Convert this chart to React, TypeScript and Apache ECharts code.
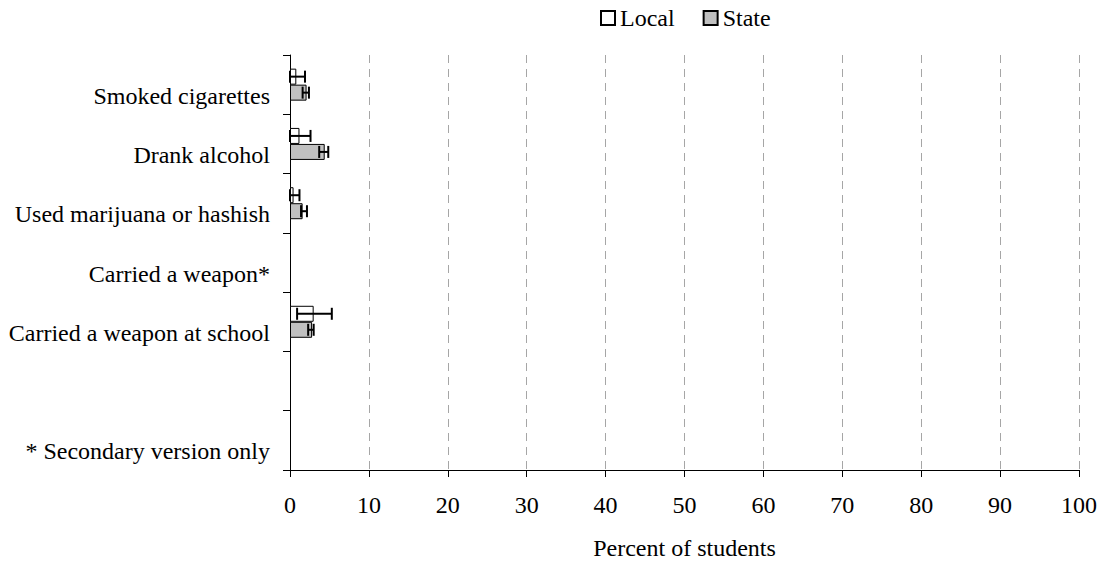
import React, { useEffect, useRef } from "react";
import * as echarts from "echarts";

const categories = [
  "Smoked cigarettes",
  "Drank alcohol",
  "Used marijuana or hashish",
  "Carried a weapon*",
  "Carried a weapon at school",
  "",
  "* Secondary version only",
];
const localValues: (number | null)[] = [0.8, 1.2, 0.45, null, 3.0, null, null];
const stateValues: (number | null)[] = [2.1, 4.4, 1.6, null, 2.8, null, null];
const localErrors: ([number, number] | null)[] = [[0, 1.9], [0, 2.6], [0, 1.2], null, [0.9, 5.3], null, null];
const stateErrors: ([number, number] | null)[] = [[1.6, 2.4], [3.7, 4.85], [1.4, 2.15], null, [2.3, 3.0], null, null];
const xTicks = [0, 10, 20, 30, 40, 50, 60, 70, 80, 90, 100];

const FONT = "'Liberation Serif', 'Times New Roman', Times, serif";
const FS = 24;
const BAR_W = 16;

function errData(errs: ([number, number] | null)[]) {
  const out: number[][] = [];
  errs.forEach((e, i) => {
    if (e) out.push([i, e[0], e[1]]);
  });
  return out;
}

function makeRenderItem(offset: number) {
  return (params: any, api: any) => {
    const ci = api.value(0);
    const a = api.coord([api.value(1), ci]);
    const b = api.coord([api.value(2), ci]);
    const y = a[1] + offset;
    const cap = 6;
    const style = { stroke: "#000", lineWidth: 2 };
    return {
      type: "group",
      children: [
        { type: "line", shape: { x1: a[0], y1: y, x2: b[0], y2: y }, style },
        { type: "line", shape: { x1: a[0], y1: y - cap, x2: a[0], y2: y + cap }, style },
        { type: "line", shape: { x1: b[0], y1: y - cap, x2: b[0], y2: y + cap }, style },
      ],
    };
  };
}

export default function App() {
  const ref = useRef<HTMLDivElement>(null);
  useEffect(() => {
    if (!ref.current) return;
    const chart = echarts.init(ref.current, null, { renderer: "svg" });
    chart.setOption({
      animation: false,
      textStyle: { fontFamily: FONT, color: "#000" },
      legend: {
        data: ["Local", "State"],
        left: 600,
        top: 6,
        padding: 0,
        icon: "rect",
        itemWidth: 14,
        itemHeight: 14,
        itemGap: 28,
        textStyle: { fontFamily: FONT, fontSize: FS, color: "#000" },
      },
      grid: { left: 290, right: 21, top: 55, bottom: 92, containLabel: false, outerBoundsMode: "none" },
      xAxis: {
        type: "value",
        min: 0,
        max: 100,
        interval: 10,
        name: "Percent of students",
        nameLocation: "middle",
        nameGap: 66,
        nameTextStyle: { fontFamily: FONT, fontSize: FS, color: "#000" },
        axisLine: { show: true, lineStyle: { color: "#000", width: 1 } },
        axisTick: { show: true, length: 7, lineStyle: { color: "#000" } },
        axisLabel: {
          margin: 23,
          fontFamily: FONT,
          fontSize: FS,
          color: "#000",
          formatter: (v: number) => (xTicks.includes(v) ? String(v) : ""),
        },
        splitLine: { show: true, lineStyle: { color: "#a6a6a6", type: [8, 6], width: 1 } },
      },
      yAxis: {
        type: "category",
        data: categories,
        inverse: true,
        axisLine: { show: true, lineStyle: { color: "#000", width: 1 } },
        axisTick: { show: true, length: 7, alignWithLabel: false, lineStyle: { color: "#000" } },
        axisLabel: {
          margin: 20,
          fontFamily: FONT,
          fontSize: FS,
          color: "#000",
          formatter: (v: string) => "{a|" + v + "}",
          rich: {
            a: { fontFamily: FONT, fontSize: FS, color: "#000", padding: [22, 0, 0, 0] },
          },
        },
        splitLine: { show: false },
      },
      series: [
        {
          name: "Local",
          type: "bar",
          data: localValues,
          barWidth: BAR_W,
          barGap: "0%",
          itemStyle: { color: "#ffffff", borderColor: "#000", borderWidth: 1 },
        },
        {
          name: "State",
          type: "bar",
          data: stateValues,
          barWidth: BAR_W,
          barGap: "0%",
          itemStyle: { color: "#c0c0c0", borderColor: "#000", borderWidth: 1 },
        },
        {
          type: "custom",
          renderItem: makeRenderItem(-BAR_W / 2),
          data: errData(localErrors),
          encode: { x: [1, 2], y: 0 },
          z: 10,
        },
        {
          type: "custom",
          renderItem: makeRenderItem(BAR_W / 2),
          data: errData(stateErrors),
          encode: { x: [1, 2], y: 0 },
          z: 10,
        },
      ],
    });
    return () => chart.dispose();
  }, []);
  return (
    <div
      ref={ref}
      style={{ position: "fixed", left: 0, top: 0, width: 1100, height: 562, background: "#fff" }}
    />
  );
}
